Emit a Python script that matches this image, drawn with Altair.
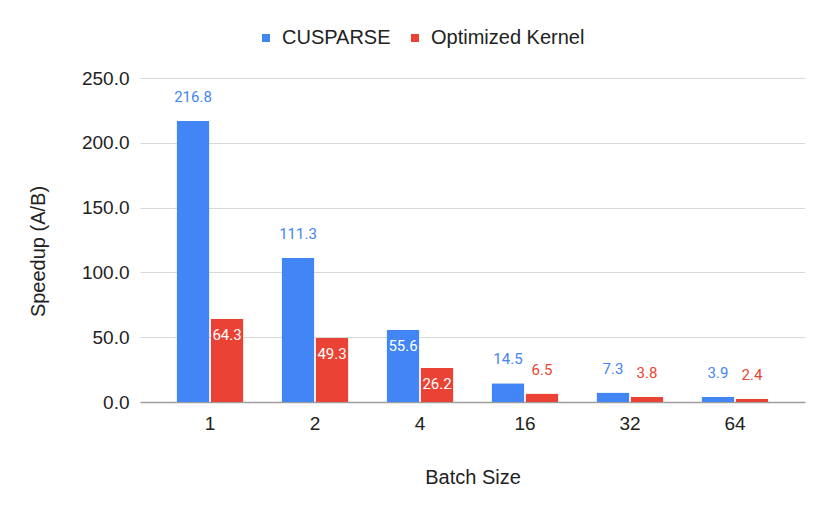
import altair as alt
import pandas as pd

batch_sizes = ["1", "2", "4", "16", "32", "64"]
cusparse = [216.8, 111.3, 55.6, 14.5, 7.3, 3.9]
optimized = [64.3, 49.3, 26.2, 6.5, 3.8, 2.4]
series_names = ["CUSPARSE", "Optimized Kernel"]
y_ticks = [0, 50, 100, 150, 200, 250]

rows = []
for b, c, o in zip(batch_sizes, cusparse, optimized):
    rows.append({"batch": b, "series": series_names[0], "value": c})
    rows.append({"batch": b, "series": series_names[1], "value": o})
df = pd.DataFrame(rows)
df["inside"] = (df["value"] >= 20) & (df["value"] < 100)

colors = ["#4285F4", "#EA4335"]
color_scale = alt.Scale(domain=series_names, range=colors)

x_enc = alt.X(
    "batch:N",
    sort=batch_sizes,
    scale=alt.Scale(paddingInner=0.362, paddingOuter=0.348),
    axis=alt.Axis(
        title="Batch Size",
        labelAngle=0,
        ticks=False,
        labelPadding=12,
        labelFont="Liberation Sans",
        labelFontSize=19,
        labelColor="#222222",
        titleFont="Liberation Sans",
        titleFontSize=20,
        titleFontWeight="normal",
        titleColor="#222222",
        titleBaseline="middle",
        titleY=75,
        domainColor="#9e9e9e",
        domainWidth=1.5,
        grid=False,
    ),
)
y_enc = alt.Y(
    "value:Q",
    scale=alt.Scale(domain=[0, 250], nice=False),
    axis=alt.Axis(
        title="Speedup (A/B)",
        values=y_ticks,
        format=".1f",
        ticks=False,
        domain=False,
        labelPadding=11,
        labelFont="Liberation Sans",
        labelFontSize=19,
        labelColor="#222222",
        titleFont="Liberation Sans",
        titleFontSize=20,
        titleFontWeight="normal",
        titleColor="#222222",
        titleAngle=-90,
        titleBaseline="middle",
        titleX=-102,
        titleY=173,
        gridColor="#d9d9d9",
        gridWidth=1,
    ),
)
xoff = alt.XOffset("series:N", sort=series_names, scale=alt.Scale(paddingInner=0.03))

bars = alt.Chart(df).mark_bar(cornerRadius=1).encode(
    x=x_enc,
    y=y_enc,
    xOffset=xoff,
    color=alt.Color(
        "series:N",
        scale=color_scale,
        sort=series_names,
        legend=alt.Legend(
            title=None,
            orient="none",
            direction="horizontal",
            legendX=116,
            legendY=-50,
            symbolType="square",
            symbolSize=64,
            symbolStrokeWidth=0,
            labelFont="Liberation Sans",
            labelFontSize=20,
            labelColor="#222222",
            labelOffset=6,
            columnPadding=14,
        ),
    ),
)

outside = alt.Chart(df).transform_filter("!datum.inside").mark_text(
    font="Roboto", fontSize=15, baseline="middle", dy=-24
).encode(
    x=alt.X("batch:N", sort=batch_sizes),
    y=alt.Y("value:Q"),
    xOffset=xoff,
    text=alt.Text("value:Q", format=".1f"),
    color=alt.Color("series:N", scale=color_scale, sort=series_names, legend=None),
)

inside = alt.Chart(df).transform_filter("datum.inside").mark_text(
    font="Roboto", fontSize=15, baseline="middle", dy=16, color="white"
).encode(
    x=alt.X("batch:N", sort=batch_sizes),
    y=alt.Y("value:Q"),
    xOffset=xoff,
    text=alt.Text("value:Q", format=".1f"),
)

chart = alt.layer(bars, outside, inside).properties(
    width=665,
    height=324,
    background="white",
    autosize=alt.AutoSizeParams(type="none"),
    padding={"left": 132, "top": 70, "right": 17, "bottom": 105},
).configure_view(strokeWidth=0, stroke="transparent")

chart.save("out.html", embed_options={"renderer": "svg", "actions": False})
